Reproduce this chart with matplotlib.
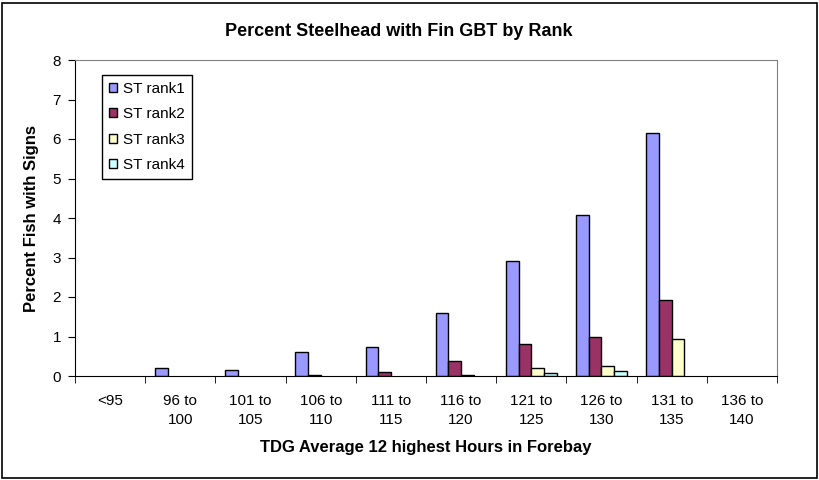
import numpy as np
import matplotlib.pyplot as plt
from matplotlib.patches import Rectangle, Patch

plt.rcParams['font.family'] = ['Liberation Sans', 'DejaVu Sans']

# TDG bins
categories = ['<95', '96 to\n100', '101 to\n105', '106 to\n110', '111 to\n115',
              '116 to\n120', '121 to\n125', '126 to\n130', '131 to\n135', '136 to\n140']

# percent of fish with fin GBT, by rank
rank1 = [0, 0.2, 0.15, 0.6, 0.73, 1.6, 2.9, 4.07, 6.15, 0]
rank2 = [0, 0, 0, 0.03, 0.1, 0.37, 0.8, 1.0, 1.92, 0]
rank3 = [0, 0, 0, 0, 0, 0.03, 0.2, 0.25, 0.93, 0]
rank4 = [0, 0, 0, 0, 0, 0, 0.08, 0.13, 0, 0]

series = [rank1, rank2, rank3, rank4]
names = ['ST rank1', 'ST rank2', 'ST rank3', 'ST rank4']
colors = ['#9999FF', '#993366', '#FFFFCC', '#CCFFFF']

fig = plt.figure(figsize=(8.2, 4.8), dpi=100)
ax = fig.add_axes([75/820, 104/480, 702/820, 316/480])

x = np.arange(len(categories))
w = 0.18
for i, (vals, c) in enumerate(zip(series, colors)):
    vals = np.array(vals)
    # no outline on empty bars so nothing shows on the baseline
    lw = np.where(vals > 0, 1.0, 0.0)
    ax.bar(x + (i - 1.5) * w, vals, w, color=c, edgecolor='black', linewidth=lw)

ax.set_xlim(-0.5, len(categories) - 0.5)
ax.set_ylim(0, 8)
ax.set_yticks(range(0, 9))
ax.set_xticks(x)
ax.set_xticklabels(categories, fontsize=11, linespacing=1.45)
ax.set_xticks(np.arange(-0.5, len(categories)), minor=True)
ax.tick_params(axis='x', which='major', length=0, pad=13)
ax.tick_params(axis='x', which='minor', length=5, direction='out', color='black')
ax.tick_params(axis='y', length=5, direction='out', labelsize=11, pad=5)

for s in ['top', 'right']:
    ax.spines[s].set_color('#808080')
for s in ['left', 'bottom']:
    ax.spines[s].set_color('black')

fig.text(399/820, 1 - 31/480, 'Percent Steelhead with Fin GBT by Rank',
         fontsize=13, fontweight='bold', ha='center', va='center')
ax.set_xlabel('TDG Average 12 highest Hours in Forebay', fontsize=12,
              fontweight='bold', labelpad=9)
ax.set_ylabel('Percent Fish with Signs', fontsize=12, fontweight='bold',
              labelpad=10)

handles = [Patch(facecolor=c, edgecolor='black', linewidth=1.0) for c in colors]
leg = ax.legend(handles, names, loc='upper left', bbox_to_anchor=(0.038, 0.953),
                fontsize=11, fancybox=False, edgecolor='black', framealpha=1,
                handlelength=0.55, handleheight=0.55, handletextpad=0.4,
                labelspacing=0.75, borderpad=0.45, borderaxespad=0)
leg.get_frame().set_linewidth(1.0)

# outer chart border
fig.patches.append(Rectangle((2/820, 2/480), 815/820, 475/480,
                             transform=fig.transFigure, fill=False,
                             edgecolor='black', linewidth=1.2))

fig.savefig('out.png', dpi=100)
